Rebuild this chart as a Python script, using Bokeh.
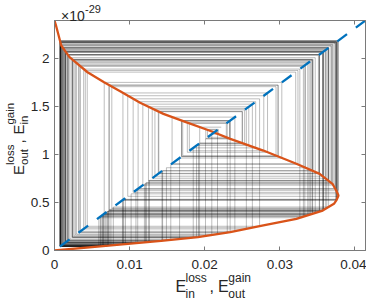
import numpy as np
from bokeh.plotting import figure
from bokeh.models import Range1d, FixedTicker, LinearAxis, GridBox, Div
from bokeh.embed import file_html
from bokeh.resources import INLINE

# ---------------- data ----------------
# orange map curve: E_in^loss as a function of E_out^loss (y in units of 1e-29)
curve_y = [0.000, 0.050, 0.100, 0.139, 0.191, 0.261, 0.331, 0.417, 0.487, 0.529,
           0.574, 0.626, 0.696, 0.800, 0.905, 1.043, 1.165, 1.252, 1.339, 1.426,
           1.541, 1.659, 1.756, 1.860, 2.017, 2.139, 2.347, 2.400]
curve_x = [0.0000, 0.0072, 0.0142, 0.0191, 0.0234, 0.0278, 0.0322, 0.0357, 0.0372, 0.03756,
           0.0378, 0.0375, 0.0370, 0.0353, 0.0322, 0.0278, 0.0234, 0.0206, 0.0175, 0.0145,
           0.0114, 0.0088, 0.0066, 0.0044, 0.0020, 0.0009, 0.0002, 0.0000]

# successive iterates (E_in^loss) of the cobweb, in order
orbit_x = [0.0222, 0.01933, 0.02498, 0.01389, 0.03513, 0.00182, 0.0149, 0.03341, 0.00321, 0.0230,
           0.01768, 0.02836, 0.00911, 0.03749, 0.00078, 0.00651, 0.0341, 0.0026, 0.0201, 0.02337,
           0.01693, 0.02975, 0.00729, 0.03582, 0.00145, 0.01197, 0.03701, 0.00087, 0.00726, 0.03579,
           0.00147, 0.01214, 0.03687, 0.0009, 0.00751, 0.0361, 0.00131, 0.01084, 0.03776, 0.00073,
           0.0061, 0.03313, 0.00346, 0.02401, 0.01565, 0.03211, 0.00436, 0.0273, 0.01047, 0.03758,
           0.00076, 0.00635, 0.03372, 0.00294, 0.0217, 0.02037, 0.02287, 0.01795, 0.02786, 0.00975,
           0.03774, 0.00073, 0.0059, 0.03266, 0.00388, 0.02554, 0.01301, 0.03604, 0.00134, 0.01108,
           0.03735, 0.00081, 0.00677, 0.03471, 0.00206, 0.01665, 0.03026, 0.00662, 0.03436, 0.00237,
           0.01891, 0.02586, 0.01251, 0.03652, 0.00109, 0.00905, 0.03746, 0.00079, 0.0066, 0.03431,
           0.00241, 0.01917, 0.02531, 0.01337, 0.0357, 0.00152, 0.01255, 0.03648, 0.00111, 0.00922,
           0.03753, 0.00077, 0.00643, 0.0339, 0.00278, 0.02094, 0.02181, 0.02014, 0.0233, 0.01707,
           0.02949, 0.00763, 0.03625, 0.00123, 0.0102, 0.0377, 0.00074, 0.00618, 0.03332, 0.00329,
           0.02338, 0.01691, 0.02978, 0.00725, 0.03577, 0.00148, 0.01221, 0.0368, 0.00094, 0.00783,
           0.03649, 0.0011, 0.00913, 0.03756, 0.00084, 0.00701, 0.03528, 0.00174, 0.01431, 0.03442,
           0.00231, 0.01847, 0.02678, 0.01113, 0.03736, 0.00081, 0.0070, 0.03525, 0.00175, 0.01439,
           0.03428, 0.00244, 0.01931, 0.02502, 0.01382, 0.03525, 0.0019, 0.01548, 0.03241, 0.0041,
           0.02634, 0.01176, 0.0371, 0.00086, 0.00718, 0.03568, 0.00153, 0.01262, 0.03641, 0.00114,
           0.00945]

# identity (diagonal) line, corner to corner
diag_x = [0.0414, 0.0]
diag_y = [2.4, 0.0]

x_ticks = [0, 0.01, 0.02, 0.03, 0.04]
x_tick_labels = ["0", "0.01", "0.02", "0.03", "0.04"]
y_ticks = [0, 0.5, 1, 1.5, 2]
y_tick_labels = ["0", "0.5", "1", "1.5", "2"]

# ---------------- derived cobweb segments ----------------
k = diag_y[0] / diag_x[0]
ox = np.array(orbit_x)
hx0, hx1, hy = ox[:-1], ox[1:], k * ox[:-1]
vx, vy0, vy1 = ox[1:], k * ox[:-1], k * ox[1:]
seg_x0 = np.concatenate([hx0, vx])
seg_x1 = np.concatenate([hx1, vx])
seg_y0 = np.concatenate([hy, vy0])
seg_y1 = np.concatenate([hy, vy1])

FONT = "Liberation Sans"
AX = "#7a7a7a"
TXT = "#262626"
W, H = 366, 295

p = figure(width=W, height=H,
           x_range=Range1d(0, diag_x[0]), y_range=Range1d(0, diag_y[0]),
           output_backend="svg", toolbar_location=None,
           min_border_left=54, min_border_right=1, min_border_top=20, min_border_bottom=45)
p.grid.visible = False
p.outline_line_color = AX
p.outline_line_width = 1
p.background_fill_color = "white"
p.border_fill_color = "white"

p.segment(seg_x0, seg_y0, seg_x1, seg_y1, line_color="black", line_alpha=0.26, line_width=1)
p.line(curve_x, curve_y, line_color="#D95319", line_width=2.3)
p.line(diag_x, diag_y, line_color="#0072BD", line_width=2.3, line_dash="12 11")


def style_axis(ax, ticks, labels, standoff, show_labels=True):
    ax.ticker = FixedTicker(ticks=ticks)
    ax.major_tick_in = 4
    ax.major_tick_out = 0
    ax.minor_tick_line_color = None
    ax.axis_line_color = AX
    ax.major_tick_line_color = AX
    ax.major_label_text_font = FONT
    ax.major_label_text_color = TXT
    ax.major_label_standoff = standoff
    if show_labels:
        ax.major_label_overrides = {t: l for t, l in zip(ticks, labels)}
        ax.major_label_text_font_size = "13.5px"
    else:
        ax.major_label_overrides = {t: "" for t in ticks}
        ax.major_label_text_font_size = "1px"


style_axis(p.xaxis[0], x_ticks, x_tick_labels, 9)
style_axis(p.yaxis[0], y_ticks, y_tick_labels, 5)
top_ax = LinearAxis()
style_axis(top_ax, x_ticks, x_tick_labels, 0, show_labels=False)
p.add_layout(top_ax, "above")
right_ax = LinearAxis()
style_axis(right_ax, y_ticks, y_tick_labels, 0, show_labels=False)
p.add_layout(right_ax, "right")

# ---------------- composite axis titles (HTML text overlay) ----------------
ASC = 0.7465  # baseline offset (em) for line-height 0.8 with Liberation Sans


def piece(text, left, baseline, fs):
    top = baseline - ASC * fs
    return (f'<span style="position:absolute;left:{left:.2f}px;top:{top:.2f}px;'
            f'font-size:{fs}px;line-height:0.8;white-space:nowrap;">{text}</span>')


xlab = "".join([
    piece("E", 170.5, 288, 16),
    piece("loss", 180.5, 277.5, 12),
    piece("in", 180.5, 293.5, 12),
    piece(",", 204.5, 288, 16),
    piece("E", 213.0, 288, 16),
    piece("gain", 223.3, 277.5, 12),
    piece("out", 223.3, 293.5, 12),
])

# y title laid out horizontally in local coords, then rotated -90deg about its anchor
ylab_inner = "".join([
    piece("E", 0, 0, 15),
    piece("loss", 10, -9.5, 11.5),
    piece("out", 10, 5, 11.5),
    piece(",", 31.5, 0, 15),
    piece("E", 40.4, 0, 15),
    piece("gain", 50.4, -9.5, 11.5),
    piece("in", 50.4, 5, 11.5),
])
ylab = ('<div style="position:absolute;left:19px;top:170px;width:0;height:0;'
        'transform-origin:0 0;transform:rotate(-90deg);">' + ylab_inner + '</div>')

expo = piece("\u00d710", 56, 16.5, 14) + piece("-29", 80, 8.5, 11)

html = (f'<div style="position:relative;width:{W}px;height:{H}px;overflow:visible;'
        f"font-family:'{FONT}';color:{TXT};pointer-events:none;\">"
        + xlab + ylab + expo + '</div>')

overlay = Div(text=html, width=W, height=H)

root = GridBox(children=[(p, 0, 0), (overlay, 0, 0)], spacing=0)
open("out.html", "w").write(file_html(root, INLINE))
